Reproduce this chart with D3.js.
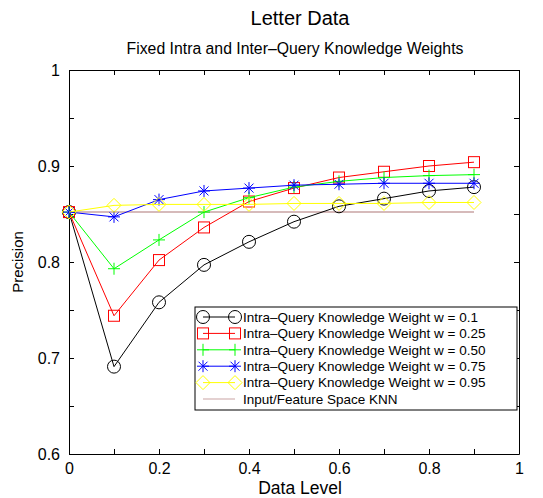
<!DOCTYPE html>
<html lang="en">
<head>
  <meta charset="UTF-8">
  <title>Letter Data</title>
  <script src="https://cdn.jsdelivr.net/npm/d3@7"></script>
  <style>
    body { margin: 0; background: #fff; }
    svg { display: block; font-family: "Liberation Sans", Arial, Helvetica, sans-serif; }
  </style>
</head>
<body>
<svg id="chart" width="543" height="498"></svg>
<script>
  // data
  var dataLevels = [0, 0.1, 0.2, 0.3, 0.4, 0.5, 0.6, 0.7, 0.8, 0.9];
  var weight010 = [0.852, 0.691, 0.758, 0.797, 0.821, 0.842, 0.858, 0.866, 0.874, 0.878];
  var weight025 = [0.852, 0.744, 0.802, 0.836, 0.863, 0.877, 0.888, 0.894, 0.900, 0.904];
  var weight050 = [0.852, 0.793, 0.823, 0.852, 0.867, 0.878, 0.884, 0.888, 0.890, 0.891];
  var weight075 = [0.852, 0.847, 0.865, 0.874, 0.877, 0.880, 0.881, 0.882, 0.882, 0.882];
  var weight095 = [0.852, 0.859, 0.860, 0.860, 0.860, 0.861, 0.861, 0.861, 0.862, 0.862];
  var knnBaseline = [0.852, 0.852, 0.852, 0.852, 0.852, 0.852, 0.852, 0.852, 0.852, 0.852];

  var seriesLabels = [
    "Intra\u2013Query Knowledge Weight w = 0.1",
    "Intra\u2013Query Knowledge Weight w = 0.25",
    "Intra\u2013Query Knowledge Weight w = 0.50",
    "Intra\u2013Query Knowledge Weight w = 0.75",
    "Intra\u2013Query Knowledge Weight w = 0.95",
    "Input/Feature Space KNN"
  ];

  var xTicks = [0, 0.1, 0.2, 0.3, 0.4, 0.5, 0.6, 0.7, 0.8, 0.9, 1];
  var xTickLabels = ["0", "", "0.2", "", "0.4", "", "0.6", "", "0.8", "", "1"];
  var yTicks = [0.6, 0.65, 0.7, 0.75, 0.8, 0.85, 0.9, 0.95, 1];
  var yTickLabels = ["0.6", "", "0.7", "", "0.8", "", "0.9", "", "1"];

  var series = [
    { values: weight010, color: "#000000", marker: "circle" },
    { values: weight025, color: "#ff0000", marker: "square" },
    { values: weight050, color: "#00ff00", marker: "plus" },
    { values: weight075, color: "#0000ff", marker: "star" },
    { values: weight095, color: "#ffff00", marker: "diamond" },
    { values: knnBaseline, color: "#c9a3a3", marker: null }
  ];

  var svg = d3.select("#chart");
  var plotLeft = 69, plotRight = 519, plotTop = 70, plotBottom = 454;

  var x = d3.scaleLinear().domain([0, 1]).range([plotLeft, plotRight]);
  var y = d3.scaleLinear().domain([0.6, 1]).range([plotBottom, plotTop]);

  // titles
  svg.append("text").attr("x", 300).attr("y", 25)
    .attr("text-anchor", "middle").attr("font-size", 20).text("Letter Data");
  svg.append("text").attr("x", 295).attr("y", 54)
    .attr("text-anchor", "middle").attr("font-size", 15.8)
    .text("Fixed Intra and Inter\u2013Query Knowledge Weights");

  // axes, ticks pointing inward on all four sides
  function xFmt(d, i) { return xTickLabels[i]; }
  function yFmt(d, i) { return yTickLabels[i]; }

  svg.append("g").attr("transform", "translate(0," + plotBottom + ")")
    .call(d3.axisBottom(x).tickValues(xTicks).tickFormat(xFmt).tickSizeInner(-5).tickSizeOuter(0).tickPadding(9));
  svg.append("g").attr("transform", "translate(0," + plotTop + ")")
    .call(d3.axisTop(x).tickValues(xTicks).tickFormat("").tickSizeInner(-5).tickSizeOuter(0));
  svg.append("g").attr("transform", "translate(" + plotLeft + ",0)")
    .call(d3.axisLeft(y).tickValues(yTicks).tickFormat(yFmt).tickSizeInner(-5).tickSizeOuter(0).tickPadding(9));
  svg.append("g").attr("transform", "translate(" + plotRight + ",0)")
    .call(d3.axisRight(y).tickValues(yTicks).tickFormat("").tickSizeInner(-5).tickSizeOuter(0));

  svg.selectAll(".tick text").attr("font-size", 16).attr("fill", "#000")
    .attr("font-family", "Liberation Sans, Arial, sans-serif");
  svg.selectAll(".domain, .tick line").attr("stroke", "#000");

  svg.append("text").attr("x", 300).attr("y", 494)
    .attr("text-anchor", "middle").attr("font-size", 17.5).text("Data Level");
  svg.append("text").attr("transform", "translate(23," + (plotTop + plotBottom) / 2 + ") rotate(-90)")
    .attr("text-anchor", "middle").attr("font-size", 15).text("Precision");

  // markers
  function drawMarker(g, type, color) {
    if (type === "circle") {
      g.append("circle").attr("r", 6.5).attr("fill", "none").attr("stroke", color);
    } else if (type === "square") {
      g.append("rect").attr("x", -5.5).attr("y", -5.5).attr("width", 11).attr("height", 11)
        .attr("fill", "none").attr("stroke", color);
    } else if (type === "plus") {
      g.append("path").attr("d", "M-6,0H6M0,-6V6").attr("stroke", color);
    } else if (type === "star") {
      g.append("path").attr("d", "M-6,0H6M0,-6V6M-4.5,-4.5L4.5,4.5M-4.5,4.5L4.5,-4.5")
        .attr("stroke", color);
    } else if (type === "diamond") {
      g.append("path").attr("d", "M0,-7L7,0L0,7L-7,0Z").attr("fill", "none").attr("stroke", color);
    }
  }

  var line = d3.line()
    .x(function (d, i) { return x(dataLevels[i]); })
    .y(function (d) { return y(d); });

  var plot = svg.append("g");
  // baseline first so the coloured curves sit on top of it
  var order = [5, 0, 1, 2, 3, 4];
  order.forEach(function (k) {
    var s = series[k];
    plot.append("path").datum(s.values)
      .attr("d", line).attr("fill", "none")
      .attr("stroke", s.color).attr("stroke-width", k === 5 ? 1.5 : 1);
    if (s.marker) {
      s.values.forEach(function (v, i) {
        var m = plot.append("g").attr("transform", "translate(" + x(dataLevels[i]) + "," + y(v) + ")");
        drawMarker(m, s.marker, s.color);
      });
    }
  });

  // legend
  var legLeft = 195, legTop = 307, legRight = 517, legBottom = 410;
  var legend = svg.append("g");
  legend.append("rect").attr("x", legLeft).attr("y", legTop)
    .attr("width", legRight - legLeft).attr("height", legBottom - legTop)
    .attr("fill", "#fff").attr("stroke", "#000");
  var rowH = 16.4;
  series.forEach(function (s, i) {
    var cy = legTop + 10 + i * rowH;
    var row = legend.append("g");
    row.append("line").attr("x1", 203).attr("x2", 235).attr("y1", cy).attr("y2", cy)
      .attr("stroke", s.color);
    if (s.marker) {
      [203, 235].forEach(function (mx) {
        drawMarker(row.append("g").attr("transform", "translate(" + mx + "," + cy + ")"), s.marker, s.color);
      });
    }
    row.append("text").attr("x", 243).attr("y", cy).attr("dy", "0.35em")
      .attr("font-size", 13.5).text(seriesLabels[i]);
  });
</script>
</body>
</html>
